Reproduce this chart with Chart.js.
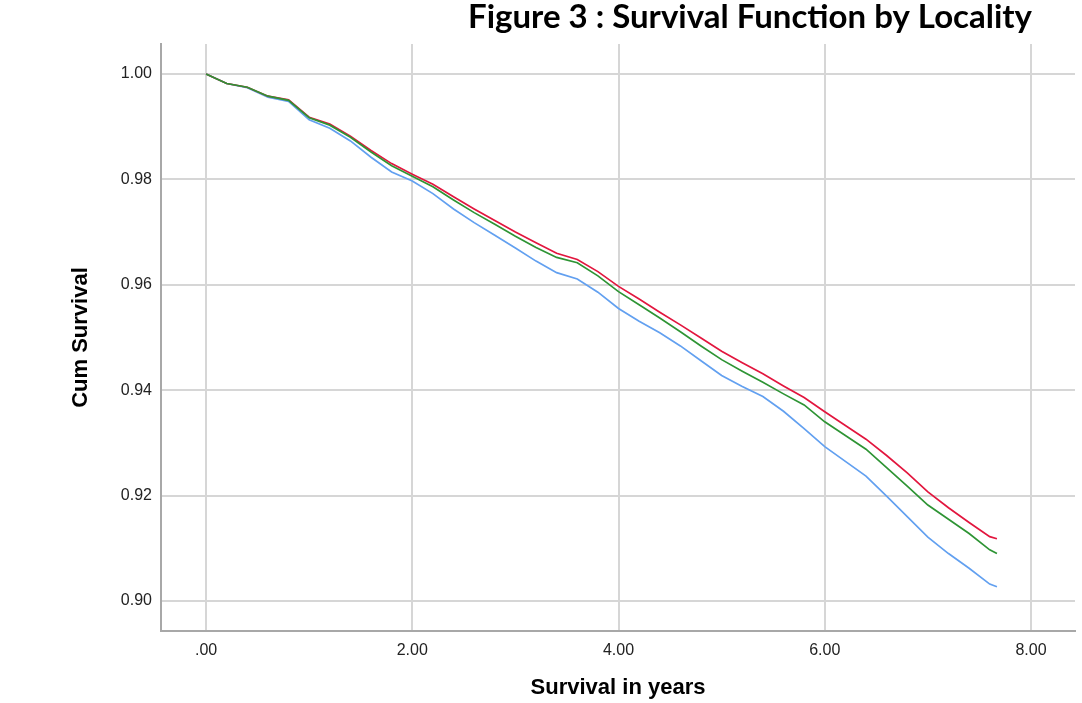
<!DOCTYPE html>
<html>
<head>
<meta charset="utf-8">
<script src="https://cdn.jsdelivr.net/npm/chart.js@4/dist/chart.umd.min.js"></script>
<style>
  html, body { margin: 0; padding: 0; background: #fff; overflow: hidden; }
  #wrap { position: relative; width: 1082px; height: 703px; }
</style>
</head>
<body>
<div id="wrap"><canvas id="survivalChart" width="1082" height="703"></canvas></div>
<script>
// Survival time (years) at which the curves were read
const years = [0, 0.2, 0.4, 0.6, 0.8, 1.0, 1.2, 1.4, 1.6, 1.8, 2.0, 2.2, 2.4, 2.6, 2.8, 3.0,
    3.2, 3.4, 3.6, 3.8, 4.0, 4.2, 4.4, 4.6, 4.8, 5.0, 5.2, 5.4, 5.6, 5.8, 6.0, 6.2, 6.4,
    6.6, 6.8, 7.0, 7.2, 7.4, 7.6, 7.67];

// Cumulative survival per locality
const redSurvival = [1.0000, 0.9982, 0.9975, 0.9958, 0.9951, 0.9918, 0.9905, 0.9882, 0.9855, 0.9830,
    0.9810, 0.9791, 0.9767, 0.9744, 0.9722, 0.9700, 0.9680, 0.9660, 0.9648, 0.9625,
    0.9597, 0.9573, 0.9548, 0.9524, 0.9499, 0.9474, 0.9452, 0.9431, 0.9408, 0.9386,
    0.9359, 0.9333, 0.9307, 0.9276, 0.9243, 0.9207, 0.9177, 0.9149, 0.9122, 0.9118];
const greenSurvival = [1.0000, 0.9982, 0.9975, 0.9958, 0.9950, 0.9917, 0.9903, 0.9880, 0.9852, 0.9826,
    0.9806, 0.9786, 0.9761, 0.9737, 0.9715, 0.9692, 0.9671, 0.9652, 0.9642, 0.9617,
    0.9587, 0.9562, 0.9537, 0.9511, 0.9484, 0.9458, 0.9436, 0.9415, 0.9393, 0.9372,
    0.9340, 0.9314, 0.9288, 0.9253, 0.9218, 0.9182, 0.9155, 0.9128, 0.9097, 0.9090];
const blueSurvival = [1.0000, 0.9982, 0.9974, 0.9956, 0.9948, 0.9913, 0.9897, 0.9873, 0.9842, 0.9814,
    0.9797, 0.9773, 0.9744, 0.9718, 0.9694, 0.9670, 0.9645, 0.9623, 0.9611, 0.9586,
    0.9555, 0.9531, 0.9509, 0.9484, 0.9456, 0.9428, 0.9407, 0.9388, 0.9360, 0.9327,
    0.9293, 0.9265, 0.9237, 0.9199, 0.9160, 0.9121, 0.9090, 0.9062, 0.9032, 0.9027];

const xTicks = [0, 2, 4, 6, 8];
const xTickLabels = ['.00', '2.00', '4.00', '6.00', '8.00'];
const yTicks = [0.90, 0.92, 0.94, 0.96, 0.98, 1.00];
const yTickLabels = ['0.90', '0.92', '0.94', '0.96', '0.98', '1.00'];

const chartTitle = 'Figure 3 : Survival Function by Locality';

function toPoints(values) {
    return years.map((t, i) => ({ x: t, y: values[i] }));
}

// Title sits partly above the top edge, as in the source figure
const clippedTitle = {
    id: 'clippedTitle',
    afterDraw(chart) {
        const ctx = chart.ctx;
        ctx.save();
        ctx.font = 'bold 33px Lato, "Open Sans", sans-serif';
        ctx.fillStyle = '#000';
        ctx.textAlign = 'center';
        ctx.textBaseline = 'alphabetic';
        ctx.fillText(chartTitle, 750, 28);
        ctx.restore();
    }
};

const tickFont = { family: '"Liberation Sans", Arial, sans-serif', size: 16 };
const axisTitleFont = { family: '"Liberation Sans", Arial, sans-serif', size: 22, weight: 'bold' };

const ctx = document.getElementById('survivalChart').getContext('2d');
new Chart(ctx, {
    type: 'line',
    data: {
        datasets: [{
            label: 'Locality 2',
            data: toPoints(greenSurvival),
            borderColor: 'rgb(46, 148, 52)'
        }, {
            label: 'Locality 1',
            data: toPoints(redSurvival),
            borderColor: 'rgb(226, 22, 62)'
        }, {
            label: 'Locality 3',
            data: toPoints(blueSurvival),
            borderColor: 'rgb(98, 160, 240)'
        }]
    },
    options: {
        responsive: false,
        animation: false,
        layout: { padding: { top: 44, right: 7, left: 0, bottom: 0 } },
        elements: {
            line: { borderWidth: 1.7, tension: 0, fill: false },
            point: { radius: 0, hoverRadius: 0 }
        },
        plugins: {
            legend: { display: false },
            title: { display: false },
            tooltip: { enabled: false }
        },
        scales: {
            x: {
                type: 'linear',
                position: 'bottom',
                min: -0.437,
                max: 8.427,
                afterBuildTicks: scale => { scale.ticks = xTicks.map(v => ({ value: v })); },
                afterFit: scale => { scale.height = 72; },
                grid: { color: '#d6d6d6', lineWidth: 2, drawTicks: false },
                border: { color: '#a8a8a8', width: 2 },
                ticks: {
                    font: tickFont,
                    color: '#222',
                    padding: 10,
                    maxRotation: 0,
                    autoSkip: false,
                    callback: value => xTickLabels[xTicks.indexOf(value)]
                },
                title: {
                    display: true,
                    text: 'Survival in years',
                    font: axisTitleFont,
                    color: '#000',
                    padding: { top: 0, bottom: 2 }
                }
            },
            y: {
                type: 'linear',
                min: 0.8943,
                max: 1.0057,
                afterBuildTicks: scale => { scale.ticks = yTicks.map(v => ({ value: v })); },
                afterFit: scale => { scale.width = 161; },
                grid: { color: '#d6d6d6', lineWidth: 2, drawTicks: false },
                border: { color: '#a8a8a8', width: 2 },
                ticks: {
                    font: tickFont,
                    color: '#222',
                    padding: 9,
                    autoSkip: false,
                    callback: value => yTickLabels[yTicks.findIndex(v => Math.abs(v - value) < 1e-9)]
                },
                title: {
                    display: true,
                    text: 'Cum Survival',
                    font: axisTitleFont,
                    color: '#000',
                    padding: { top: 68, bottom: 0 }
                }
            }
        }
    },
    plugins: [clippedTitle]
});
</script>
</body>
</html>
